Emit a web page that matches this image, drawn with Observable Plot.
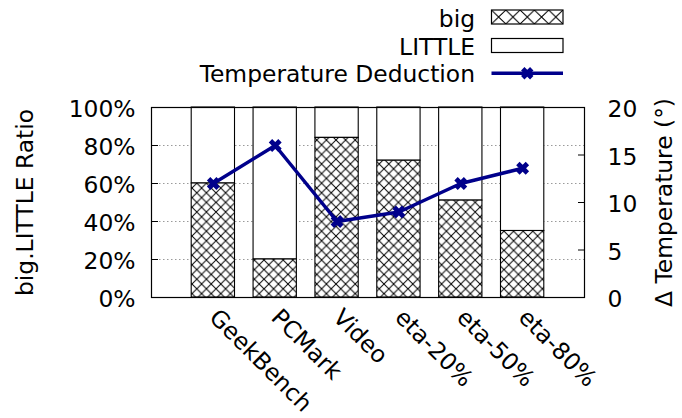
<!DOCTYPE html>
<html>
<head>
<meta charset="utf-8">
<script src="https://cdn.jsdelivr.net/npm/d3@7"></script>
<script src="https://cdn.jsdelivr.net/npm/@observablehq/plot@0.6"></script>
<style>
  body { margin: 0; background: #fff; font-family: "DejaVu Sans", sans-serif; }
  #chart { width: 682px; height: 418px; overflow: hidden; background: #fff; }
  #chart svg { display: block; }
</style>
</head>
<body>
<div id="chart"></div>
<script>
// Workloads, share of time on big cores (%), and temperature reduction (degrees)
const categories = ["GeekBench", "PCMark", "Video", "eta-20%", "eta-50%", "eta-80%"];
const bigShare = [60, 20, 84, 72, 51, 35];
const tempDeduction = [12, 16, 8, 9, 12, 13.6];
const ratioTicks = [0, 20, 40, 60, 80, 100];
const tempTicks = [0, 5, 10, 15, 20];
const seriesNames = ["big", "LITTLE", "Temperature Deduction"];
const yTitle = "big.LITTLE Ratio";
const y2Title = "\u0394 Temperature (\u00b0)";

const FONT = 23.4;
const LINE = "#00008b";
const tempMax = tempTicks[tempTicks.length - 1];
const ratioMax = ratioTicks[ratioTicks.length - 1];
const toRatio = t => t * ratioMax / tempMax;   // map temperature onto the ratio axis
const barHalf = 0.35;

const rows = categories.map((name, i) => ({
  name, pos: i + 1, big: bigShare[i], temp: tempDeduction[i]
}));

const chart = document.getElementById("chart");

// ---- legend (above the plot) ----
const legendH = 92;
const legend = d3.create("svg")
  .attr("width", 682).attr("height", legendH)
  .style("font-family", "DejaVu Sans").style("font-size", FONT + "px");
const ldefs = legend.append("defs");
const lp = ldefs.append("pattern").attr("id", "xhatch-key")
  .attr("patternUnits", "userSpaceOnUse").attr("x", 491.5).attr("y", 10)
  .attr("width", 14.3).attr("height", 14);
lp.append("rect").attr("width", 14.3).attr("height", 14).attr("fill", "white");
lp.append("path").attr("d", "M0,0L14.3,14M14.3,0L0,14").attr("stroke", "black").attr("stroke-width", 1).attr("fill", "none");

const textX = 475, swX = 491.5, swW = 71.5;
const baselines = [26.5, 54.5, 82];
seriesNames.forEach((s, i) => {
  legend.append("text").attr("x", textX).attr("y", baselines[i])
    .attr("text-anchor", "end").attr("fill", "black").text(s);
});
legend.append("rect").attr("x", swX).attr("y", 10).attr("width", swW).attr("height", 14)
  .attr("fill", "url(#xhatch-key)").attr("stroke", "black").attr("stroke-width", 1.2);
legend.append("rect").attr("x", swX).attr("y", 38.5).attr("width", swW).attr("height", 14)
  .attr("fill", "white").attr("stroke", "black").attr("stroke-width", 1.2);
legend.append("line").attr("x1", swX).attr("x2", swX + swW).attr("y1", 73.3).attr("y2", 73.3)
  .attr("stroke", LINE).attr("stroke-width", 3.5);
legend.append("path").attr("transform", `translate(${swX + swW / 2},73.3)`)
  .attr("d", "M-4.5,-4.5L4.5,4.5M-4.5,4.5L4.5,-4.5").attr("stroke", LINE).attr("stroke-width", 4.8).attr("fill", "none");
chart.appendChild(legend.node());

// ---- main plot ----
const plot = Plot.plot({
  width: 682,
  height: 418 - legendH,
  marginTop: 15,
  marginBottom: 121,
  marginLeft: 151,
  marginRight: 98,
  style: { fontFamily: "DejaVu Sans", fontSize: FONT + "px", color: "black", background: "white", overflow: "visible" },
  x: { type: "linear", domain: [0, categories.length + 1], axis: null },
  y: { domain: [0, ratioMax], axis: null },
  marks: [
    Plot.gridY(ratioTicks.filter(t => t > 0 && t < ratioMax), {
      stroke: "#9a9a9a", strokeOpacity: 1, strokeDasharray: "1.5,2.5"
    }),
    // LITTLE share: from the top of the big share up to 100%
    Plot.rectY(rows, {
      x1: d => d.pos - barHalf, x2: d => d.pos + barHalf,
      y1: "big", y2: () => ratioMax,
      fill: "white", stroke: "black", strokeWidth: 1.1
    }),
    // big share, cross-hatched
    Plot.rectY(rows, {
      x1: d => d.pos - barHalf, x2: d => d.pos + barHalf,
      y1: () => 0, y2: "big",
      fill: "url(#xhatch)", stroke: "black", strokeWidth: 1.1
    }),
    // temperature deduction on the secondary axis
    Plot.line(rows, { x: "pos", y: d => toRatio(d.temp), stroke: LINE, strokeWidth: 3.5 }),
    Plot.dot(rows, { x: "pos", y: d => toRatio(d.temp), symbol: "times", r: 4.4, stroke: LINE, strokeWidth: 4.8 }),
    Plot.frame({ stroke: "black", strokeWidth: 1.2 }),
    // inward tick marks, left and right
    Plot.axisY({ ticks: ratioTicks, tickSize: 7, dx: 7, tickFormat: () => "", label: null }),
    Plot.axisY({ anchor: "right", ticks: tempTicks.map(toRatio), tickSize: 7, dx: -7, tickFormat: () => "", label: null }),
    // tick labels
    Plot.axisY({ ticks: ratioTicks, tickSize: 0, tickPadding: 16, dy: 2, tickFormat: d => d + "%", label: null, fontSize: FONT }),
    Plot.axisY({ anchor: "right", ticks: tempTicks.map(toRatio), tickSize: 0, tickPadding: 23, dy: 2,
      tickFormat: d => String(Math.round(d * tempMax / ratioMax)), label: null, fontSize: FONT }),
    Plot.axisX({ ticks: rows.map(d => d.pos), tickFormat: i => categories[i - 1], tickSize: 0, tickPadding: 16,
      tickRotate: 45, textAnchor: "start", lineAnchor: "middle", label: null, fontSize: FONT }),
    // axis titles
    Plot.text([yTitle], { text: d => d, frameAnchor: "left", rotate: -90, dx: -126, fontSize: FONT, lineAnchor: "middle", textAnchor: "middle" }),
    Plot.text([y2Title], { text: d => d, frameAnchor: "right", rotate: -90, dx: 80, fontSize: FONT, lineAnchor: "middle", textAnchor: "middle" })
  ]
});

// cross-hatch fill for the big bars
const ns = "http://www.w3.org/2000/svg";
const defs = document.createElementNS(ns, "defs");
defs.innerHTML = `<pattern id="xhatch" patternUnits="userSpaceOnUse" width="9.6" height="9.6">
  <rect width="9.6" height="9.6" fill="white"/>
  <path d="M0,0L9.6,9.6M9.6,0L0,9.6" stroke="black" stroke-width="1" fill="none"/>
</pattern>`;
plot.insertBefore(defs, plot.firstChild);
chart.appendChild(plot);
</script>
</body>
</html>
